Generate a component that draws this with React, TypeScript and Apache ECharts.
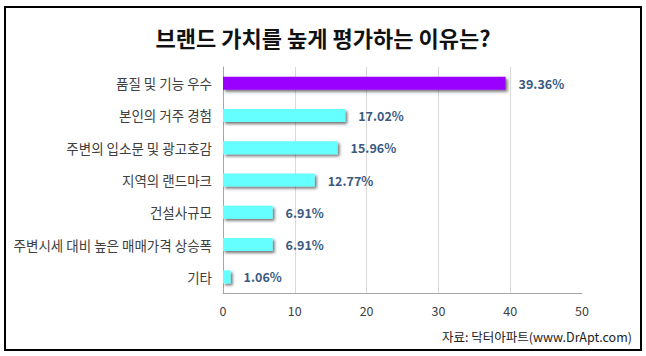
import React, { useEffect, useRef } from "react";
import * as echarts from "echarts";

const titleText = "브랜드 가치를 높게 평가하는 이유는?";
const sourceText = "자료: 닥터아파트(www.DrApt.com)";
const categories = [
  "품질 및 기능 우수",
  "본인의 거주 경험",
  "주변의 입소문 및 광고호감",
  "지역의 랜드마크",
  "건설사규모",
  "주변시세 대비 높은 매매가격 상승폭",
  "기타",
];
const values = [39.36, 17.02, 15.96, 12.77, 6.91, 6.91, 1.06];
const barColors = ["#9900ff", "#66ffff", "#66ffff", "#66ffff", "#66ffff", "#66ffff", "#66ffff"];
const axisMin = 0;
const axisMax = 50;
const axisInterval = 10;

const FONT = "'Noto Sans CJK KR', 'Noto Sans', sans-serif";

export default function App() {
  const ref = useRef<HTMLDivElement>(null);
  useEffect(() => {
    if (!ref.current) return;
    const chart = echarts.init(ref.current, null, { renderer: "svg" });
    chart.setOption({
      animation: false,
      backgroundColor: "#ffffff",
      title: {
        text: titleText,
        left: "center",
        top: 21,
        textStyle: { fontFamily: FONT, fontSize: 22, fontWeight: "bold", color: "#111111" },
      },
      graphic: [
        {
          type: "rect",
          shape: { x: 5, y: 7, width: 636, height: 343 },
          style: { fill: "none", stroke: "#000000", lineWidth: 2 },
          z: 100,
        },
        {
          type: "text",
          right: 14,
          top: 330,
          style: {
            text: sourceText,
            fontFamily: FONT,
            fontSize: 12.5,
            fill: "#222222",
          },
        },
      ],
      grid: { left: 223, right: 64, top: 67, bottom: 63, containLabel: false },
      xAxis: {
        type: "value",
        min: axisMin,
        max: axisMax,
        interval: axisInterval,
        axisLine: { show: true, lineStyle: { color: "#a6a6a6", width: 1 } },
        axisTick: { show: false },
        axisLabel: { margin: 11, fontFamily: FONT, fontSize: 12.5, color: "#404040" },
        splitLine: { show: true, showMinLine: false, showMaxLine: false, lineStyle: { color: "#d9d9d9", width: 1 } },
      },
      yAxis: {
        type: "category",
        data: categories,
        inverse: true,
        axisLine: { show: true, lineStyle: { color: "#a6a6a6", width: 1 } },
        axisTick: { show: false },
        axisLabel: { margin: 11, fontFamily: FONT, fontSize: 13.5, color: "#404040" },
        splitLine: { show: false },
      },
      series: [
        {
          type: "bar",
          data: values.map((v, i) => ({ value: v, itemStyle: { color: barColors[i] } })),
          barWidth: 13,
          itemStyle: {
            shadowColor: "rgba(0,0,0,0.55)",
            shadowBlur: 3,
            shadowOffsetX: 2,
            shadowOffsetY: 2,
          },
          label: {
            show: true,
            position: "right",
            distance: 13,
            formatter: (p: any) => p.value.toFixed(2) + "%",
            fontFamily: FONT,
            fontSize: 12.5,
            fontWeight: "bold",
            color: "#3b5a80",
          },
        },
      ],
    });
    return () => chart.dispose();
  }, []);
  return (
    <div
      ref={ref}
      style={{ position: "fixed", left: 0, top: 0, width: 646, height: 356 }}
    />
  );
}
